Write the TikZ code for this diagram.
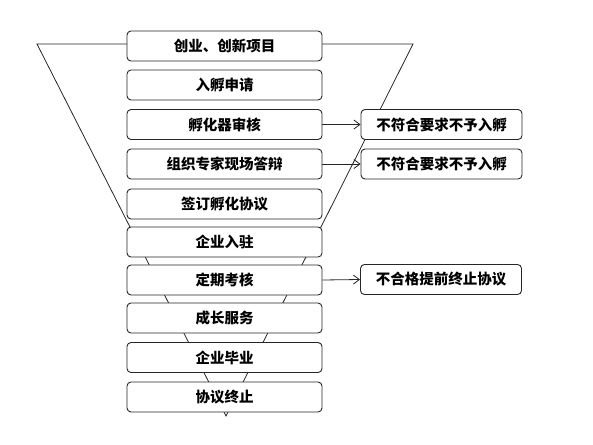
\documentclass[tikz,border=0pt]{standalone}
\usepackage{fontspec}
\newfontfamily\cjk{Noto Sans CJK SC}
\usetikzlibrary{arrows.meta}
\begin{document}
\begin{tikzpicture}[x=1pt, y=-1pt,
    stepbox/.style={draw=black!85, line width=0.9pt, fill=white, rounded corners=4pt, minimum width=195pt, minimum height=30pt, inner sep=0pt, font=\cjk\bfseries\fontsize{14.5}{16}\selectfont},
    notebox/.style={stepbox, minimum width=161pt},
    flow/.style={-{Straight Barb[length=6pt, width=9pt]}, black!85, line width=0.8pt}]
    \useasboundingbox (0, 0) rectangle (593, 444);
    % funnel behind the boxes
    \draw[black!85, line width=0.8pt] (37, 44) -- (413, 44) -- (226, 416) -- cycle;
    \foreach \n/\y/\t in {1/46/创业、创新项目, 2/85/入孵申请, 3/124.5/孵化器审核, 4/164/组织专家现场答辩, 5/204/签订孵化协议, 6/242/企业入驻, 7/280/定期考核, 8/318/成长服务, 9/357.5/企业毕业, 10/397/协议终止}
      \node[stepbox] (s\n) at (224.5, \y) {\t};
    \node[notebox] (r1) at (441.5, 124.5) {不符合要求不予入孵};
    \node[notebox] (r2) at (441.5, 164) {不符合要求不予入孵};
    \node[notebox] (r3) at (441, 279.5) {不合格提前终止协议};
    \draw[flow] (s3.east) -- (r1.west);
    \draw[flow] (s4.east) -- (r2.west);
    \draw[flow] (s7.east) -- (r3.west);
  \end{tikzpicture}
\end{document}
